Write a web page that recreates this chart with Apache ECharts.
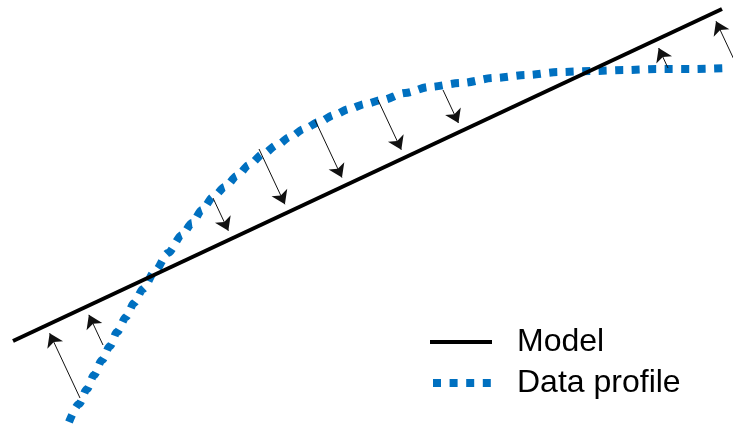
<!DOCTYPE html>
<html>
<head>
<meta charset="utf-8">
<script src="https://cdn.jsdelivr.net/npm/echarts@6/dist/echarts.min.js"></script>
<style>
  html, body { margin: 0; padding: 0; background: #fff; }
  #chart { width: 733px; height: 425px; }
</style>
</head>
<body>
<div id="chart"></div>
<script>
// Straight-line model: two end points
const modelX = [13, 722];
const modelY = [84, 416];

// Measured data profile
const profileX = [69, 79, 87, 94, 102, 110, 117, 126, 134, 143, 155, 168, 182, 192, 202, 213, 225, 237, 249, 263, 277, 290, 304, 319, 334, 349, 365, 382, 405, 429, 461, 494, 527, 559, 592, 625, 657, 691, 729];
const profileY = [3, 21, 36, 50, 65, 79, 93, 108, 122, 136, 154, 172, 190, 202, 215, 228, 238, 249, 260, 271, 280, 288, 296, 303, 310, 316, 321, 325, 332, 338, 342, 347, 350, 353, 354, 355, 356, 356, 357];

// Residual arrows: start points on the profile, drawn towards the model
const arrowX = [80, 103, 213, 259, 315, 378, 443, 668, 737];
const arrowY = [27, 80, 227, 276, 305, 325, 335, 357, 359];

const BLUE = '#0070C0';
const HEAD = 13;       // arrow head size
const MODEL_W = 4;     // model line width

// Perpendicular foot of a point on the model line
function projectOnModel(x, y) {
  const dx = modelX[1] - modelX[0];
  const dy = modelY[1] - modelY[0];
  const len = Math.hypot(dx, dy);
  const ux = dx / len, uy = dy / len;
  const t = (x - modelX[0]) * ux + (y - modelY[0]) * uy;
  return [modelX[0] + t * ux, modelY[0] + t * uy];
}

const arrowData = arrowX.map((x, i) => {
  const y = arrowY[i];
  const foot = projectOnModel(x, y);
  const vx = foot[0] - x, vy = foot[1] - y;
  const d = Math.hypot(vx, vy);
  // head symbol is centred on the end point; pull it back so the tip meets the line edge
  const back = HEAD / 2 + MODEL_W / 2;
  const end = [foot[0] - vx / d * back, foot[1] - vy / d * back];
  return { coords: [[x, y], end] };
});

const chart = echarts.init(document.getElementById('chart'), null, { renderer: 'canvas' });

chart.setOption({
  animation: false,
  backgroundColor: '#ffffff',
  grid: { left: 0, right: 0, top: 0, bottom: 0 },
  xAxis: { type: 'value', min: 0, max: 733, show: false },
  yAxis: { type: 'value', min: 0, max: 425, show: false },
  legend: {
    orient: 'vertical',
    left: 426,
    top: 326,
    padding: 0,
    itemWidth: 62,
    itemHeight: 14,
    itemGap: 9,
    selectedMode: false,
    itemStyle: { opacity: 0 },
    textStyle: {
      fontFamily: 'Liberation Sans, Arial, sans-serif',
      fontSize: 32,
      lineHeight: 32,
      color: '#000',
      padding: [0, 0, 0, 20]
    },
    data: [
      { name: 'Model', lineStyle: { color: '#000', width: MODEL_W, type: 'solid' } },
      { name: 'Data profile', lineStyle: { color: BLUE, width: 8, type: [8, 8.6], dashOffset: -3, cap: 'butt' } }
    ]
  },
  series: [
    {
      name: 'Data profile',
      type: 'line',
      data: profileX.map((x, i) => [x, profileY[i]]),
      symbol: 'none',
      smooth: 0.3,
      smoothMonotone: 'x',
      z: 2,
      lineStyle: { color: BLUE, width: 8, type: [8, 8.5], cap: 'butt' },
      itemStyle: { color: BLUE }
    },
    {
      name: 'Model',
      type: 'line',
      data: modelX.map((x, i) => [x, modelY[i]]),
      symbol: 'none',
      z: 3,
      lineStyle: { color: '#000', width: MODEL_W, cap: 'butt' },
      itemStyle: { color: '#000' }
    },
    {
      name: 'Residuals',
      type: 'lines',
      coordinateSystem: 'cartesian2d',
      z: 4,
      symbol: ['none', 'arrow'],
      symbolSize: HEAD,
      lineStyle: { color: '#111', width: 1, opacity: 1, curveness: 0 },
      itemStyle: { color: '#000' },
      data: arrowData
    }
  ]
});
</script>
</body>
</html>
